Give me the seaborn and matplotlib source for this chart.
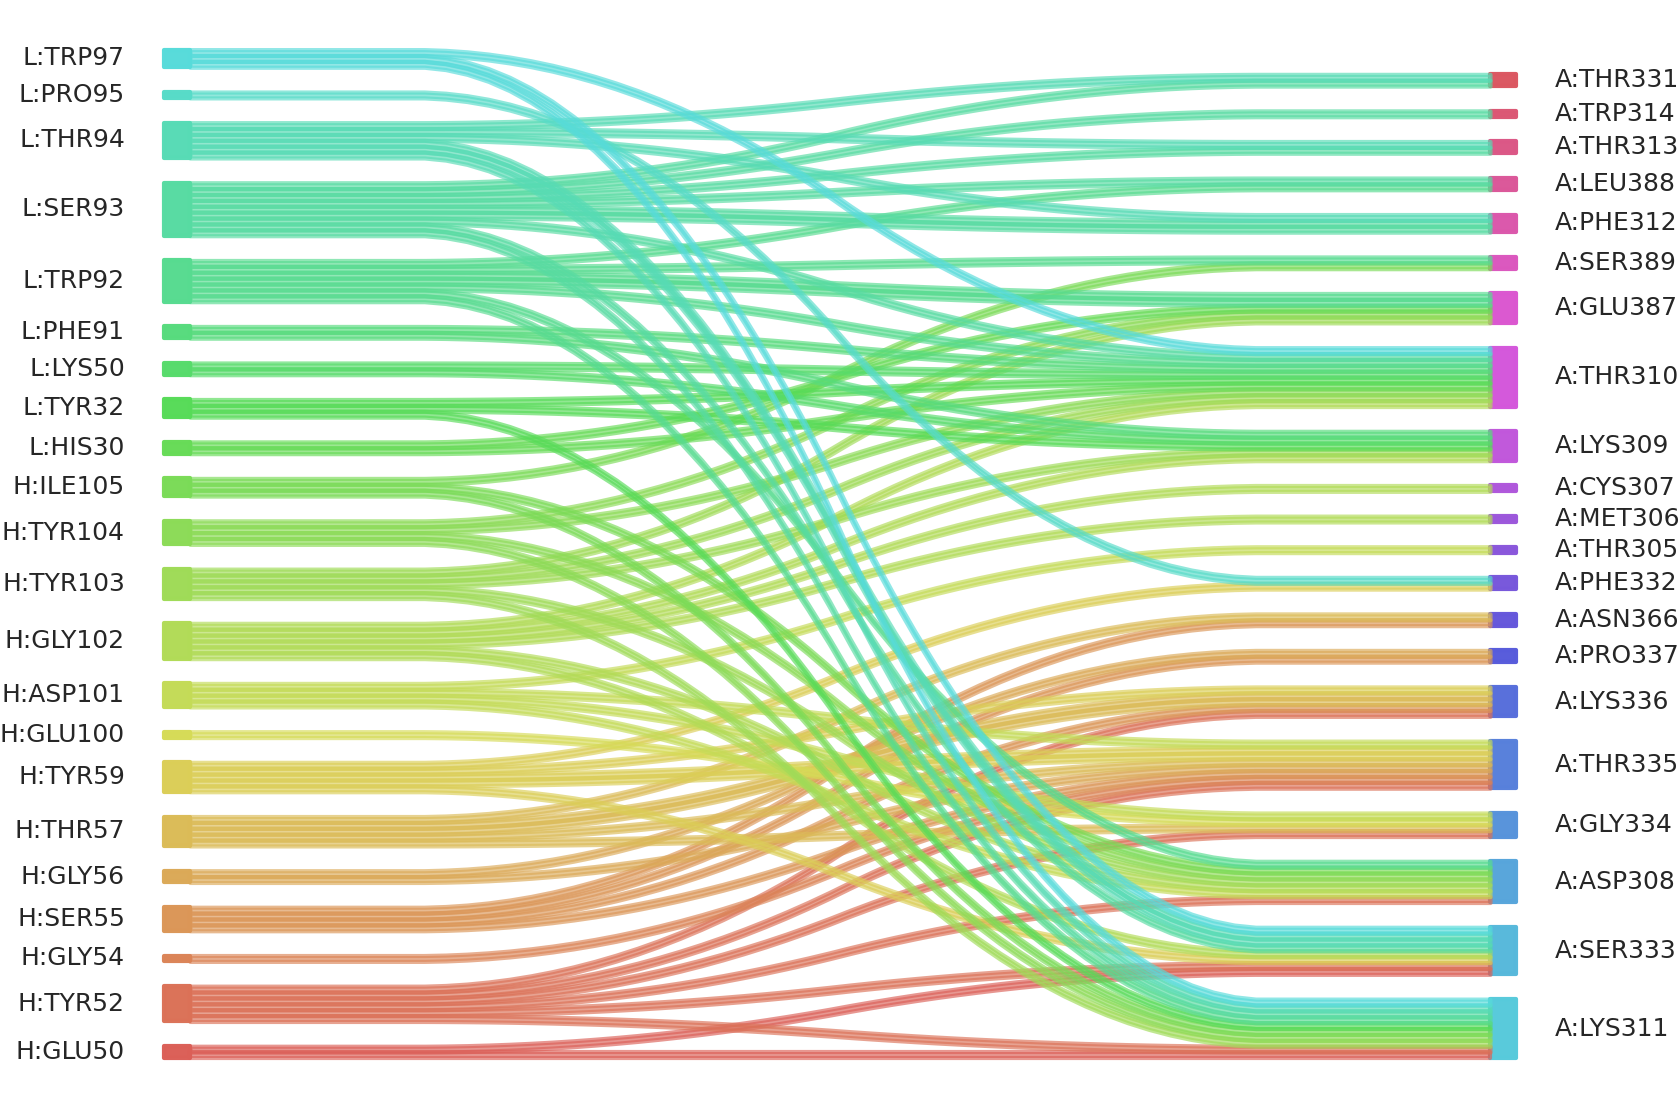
import numpy as np
import matplotlib
matplotlib.use('Agg')
import matplotlib.pyplot as plt
import seaborn as sns

# antibody residues (left), top to bottom, with number of contacts
left_labels = ['L:TRP97', 'L:PRO95', 'L:THR94', 'L:SER93', 'L:TRP92', 'L:PHE91', 'L:LYS50',
               'L:TYR32', 'L:HIS30', 'H:ILE105', 'H:TYR104', 'H:TYR103', 'H:GLY102', 'H:ASP101',
               'H:GLU100', 'H:TYR59', 'H:THR57', 'H:GLY56', 'H:SER55', 'H:GLY54', 'H:TYR52', 'H:GLU50']
left_units = [3, 1, 6, 9, 7, 2, 2, 3, 2, 3, 4, 5, 6, 4, 1, 5, 5, 2, 4, 1, 6, 2]

# antigen residues (right), top to bottom
right_labels = ['A:THR331', 'A:TRP314', 'A:THR313', 'A:LEU388', 'A:PHE312', 'A:SER389', 'A:GLU387',
                'A:THR310', 'A:LYS309', 'A:CYS307', 'A:MET306', 'A:THR305', 'A:PHE332', 'A:ASN366',
                'A:PRO337', 'A:LYS336', 'A:THR335', 'A:GLY334', 'A:ASP308', 'A:SER333', 'A:LYS311']
right_units = [2, 1, 2, 2, 3, 2, 5, 10, 5, 1, 1, 1, 2, 2, 2, 5, 8, 4, 7, 8, 10]

# contacts: left residue -> right residue, count
contact_left = ['H:GLU50', 'H:GLU50',
                'H:TYR52', 'H:TYR52', 'H:TYR52', 'H:TYR52', 'H:TYR52', 'H:TYR52',
                'H:GLY54',
                'H:SER55', 'H:SER55', 'H:SER55', 'H:SER55',
                'H:GLY56', 'H:GLY56',
                'H:THR57', 'H:THR57', 'H:THR57', 'H:THR57',
                'H:TYR59', 'H:TYR59', 'H:TYR59', 'H:TYR59',
                'H:GLU100',
                'H:ASP101', 'H:ASP101', 'H:ASP101', 'H:ASP101',
                'H:GLY102', 'H:GLY102', 'H:GLY102', 'H:GLY102', 'H:GLY102', 'H:GLY102',
                'H:TYR103', 'H:TYR103', 'H:TYR103', 'H:TYR103', 'H:TYR103',
                'H:TYR104', 'H:TYR104', 'H:TYR104', 'H:TYR104',
                'H:ILE105', 'H:ILE105', 'H:ILE105',
                'L:HIS30', 'L:HIS30',
                'L:TYR32', 'L:TYR32', 'L:TYR32',
                'L:LYS50', 'L:LYS50',
                'L:PHE91', 'L:PHE91',
                'L:TRP92', 'L:TRP92', 'L:TRP92', 'L:TRP92', 'L:TRP92', 'L:TRP92',
                'L:SER93', 'L:SER93', 'L:SER93', 'L:SER93', 'L:SER93', 'L:SER93', 'L:SER93', 'L:SER93',
                'L:THR94', 'L:THR94', 'L:THR94', 'L:THR94', 'L:THR94',
                'L:PRO95',
                'L:TRP97', 'L:TRP97', 'L:TRP97']
contact_right = ['A:LYS311', 'A:SER333',
                 'A:LYS311', 'A:SER333', 'A:ASP308', 'A:GLY334', 'A:THR335', 'A:LYS336',
                 'A:THR335',
                 'A:THR335', 'A:LYS336', 'A:PRO337', 'A:ASN366',
                 'A:THR335', 'A:PRO337',
                 'A:GLY334', 'A:THR335', 'A:LYS336', 'A:ASN366',
                 'A:SER333', 'A:THR335', 'A:LYS336', 'A:PHE332',
                 'A:GLY334',
                 'A:GLY334', 'A:THR335', 'A:ASP308', 'A:THR305',
                 'A:SER333', 'A:ASP308', 'A:MET306', 'A:CYS307', 'A:LYS309', 'A:THR310',
                 'A:LYS311', 'A:ASP308', 'A:LYS309', 'A:THR310', 'A:GLU387',
                 'A:LYS311', 'A:ASP308', 'A:THR310', 'A:GLU387',
                 'A:LYS311', 'A:ASP308', 'A:SER389',
                 'A:THR310', 'A:GLU387',
                 'A:LYS311', 'A:LYS309', 'A:THR310',
                 'A:LYS309', 'A:THR310',
                 'A:LYS309', 'A:THR310',
                 'A:LYS311', 'A:ASP308', 'A:THR310', 'A:GLU387', 'A:SER389', 'A:LEU388',
                 'A:LYS311', 'A:SER333', 'A:THR310', 'A:PHE312', 'A:LEU388', 'A:THR313', 'A:TRP314', 'A:THR331',
                 'A:LYS311', 'A:SER333', 'A:PHE312', 'A:THR313', 'A:THR331',
                 'A:PHE332',
                 'A:LYS311', 'A:SER333', 'A:THR310']
contact_n = [1, 1,
             1, 1, 1, 1, 1, 1,
             1,
             1, 1, 1, 1,
             1, 1,
             1, 1, 2, 1,
             1, 2, 1, 1,
             1,
             1, 1, 1, 1,
             1, 1, 1, 1, 1, 1,
             1, 1, 1, 1, 1,
             1, 1, 1, 1,
             1, 1, 1,
             1, 1,
             1, 1, 1,
             1, 1,
             1, 1,
             1, 1, 1, 2, 1, 1,
             1, 1, 1, 2, 1, 1, 1, 1,
             1, 2, 1, 1, 1,
             1,
             1, 1, 1]

# stacking goes bottom-up, like pySankey
left_order = left_labels[::-1]
right_order = right_labels[::-1]
left_size = dict(zip(left_labels, left_units))
right_size = dict(zip(right_labels, right_units))
flows = {}
for l, r, n in zip(contact_left, contact_right, contact_n):
    flows[(l, r)] = flows.get((l, r), 0) + n

all_labels = left_order + right_order
palette = sns.color_palette('hls', len(all_labels))
color_dict = dict(zip(all_labels, palette))

gap = 4.2
x_max = 100.0


def stack(order, sizes):
    pos = {}
    bottom = 0.0
    for lab in order:
        pos[lab] = [bottom, bottom + sizes[lab]]
        bottom += sizes[lab] + gap
    return pos


left_pos = stack(left_order, left_size)
right_pos = stack(right_order, right_size)

sns.set_style('white')
plt.rcParams['font.family'] = ['DejaVu Sans']
fig = plt.figure(figsize=(16.81, 11.08), dpi=100)
ax = fig.add_axes([0, 0, 1, 1])

edge_lw = 3.0
label_size = 18

# node bars
for lab in left_order:
    b, t = left_pos[lab]
    ax.fill_between([-0.02 * x_max, 0], [b, b], [t, t], color=color_dict[lab], alpha=0.99,
                    lw=edge_lw, joinstyle='round')
    ax.text(-0.05 * x_max, (b + t) / 2, lab, ha='right', va='center', fontsize=label_size)
for lab in right_order:
    b, t = right_pos[lab]
    ax.fill_between([x_max, 1.02 * x_max], [b, b], [t, t], color=color_dict[lab], alpha=0.99,
                    lw=edge_lw, joinstyle='round')
    ax.text(1.05 * x_max, (b + t) / 2, lab, ha='left', va='center', fontsize=label_size)

# strips, one per contact
left_cursor = {lab: left_pos[lab][0] for lab in left_order}
right_cursor = {lab: right_pos[lab][0] for lab in right_order}
kernel = 0.05 * np.ones(20)
for l in left_order:
    for r in right_order:
        n = flows.get((l, r), 0)
        for k in range(n):
            y0 = left_cursor[l]
            y1 = right_cursor[r]
            ys_d = np.array(50 * [y0] + 50 * [y1])
            ys_d = np.convolve(np.convolve(ys_d, kernel, mode='valid'), kernel, mode='valid')
            ys_u = np.array(50 * [y0 + 1] + 50 * [y1 + 1])
            ys_u = np.convolve(np.convolve(ys_u, kernel, mode='valid'), kernel, mode='valid')
            xs = np.linspace(0, x_max, len(ys_d))
            ax.fill_between(xs, ys_d, ys_u, color=color_dict[l], alpha=0.65,
                            lw=edge_lw, joinstyle='round')
            left_cursor[l] += 1
            right_cursor[r] += 1

# pixel anchors of the layout in the 1681x1108 canvas
left_total = left_pos[left_order[-1]][1]
px_per_x = 13.0
x0_px = 190.0
ax.set_xlim(-x0_px / px_per_x, (1681 - x0_px) / px_per_x)
y_bottom_px = 1058.0
y_top_px = 49.6
px_per_y = (y_bottom_px - y_top_px) / left_total
ax.set_ylim(-(1108 - y_bottom_px) / px_per_y, y_bottom_px / px_per_y)
ax.axis('off')

fig.savefig('out.png', dpi=100)
